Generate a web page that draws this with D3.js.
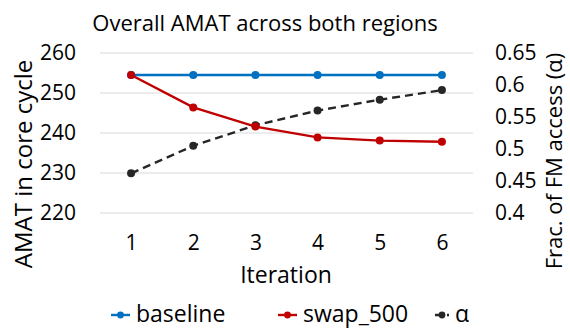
<!DOCTYPE html>
<html>
<head>
<meta charset="utf-8">
<script src="https://cdn.jsdelivr.net/npm/d3@7"></script>
<style>
  html, body { margin: 0; padding: 0; background: #fff; }
  text { font-family: "Open Sans", "Noto Sans", sans-serif; fill: #000; }
</style>
</head>
<body>
<svg id="chart" width="570" height="330"></svg>
<script>
const iterations = [1, 2, 3, 4, 5, 6];
const baseline = [254.5, 254.5, 254.5, 254.5, 254.5, 254.5];
const swap500 = [254.5, 246.4, 241.6, 238.9, 238.1, 237.8];
const alpha = [0.462, 0.505, 0.537, 0.560, 0.577, 0.592];
const leftTicks = [220, 230, 240, 250, 260];
const rightTicks = [0.4, 0.45, 0.5, 0.55, 0.6, 0.65];

const svg = d3.select("#chart");
const plot = { left: 100, right: 473, top: 53, bottom: 213 };
const tickFont = "21px";

const x = d3.scalePoint().domain(iterations).range([plot.left, plot.right]).padding(0.5);
const yL = d3.scaleLinear().domain([220, 260]).range([plot.bottom, plot.top]);
const yR = d3.scaleLinear().domain([0.4, 0.65]).range([plot.bottom, plot.top]);

// horizontal gridlines
svg.append("g")
  .selectAll("line").data(leftTicks).join("line")
  .attr("x1", plot.left).attr("x2", plot.right)
  .attr("y1", d => yL(d)).attr("y2", d => yL(d))
  .attr("stroke", "#d9d9d9").attr("stroke-width", 1);

// left axis
const gL = svg.append("g").attr("transform", `translate(${plot.left - 24},0)`)
  .call(d3.axisLeft(yL).tickValues(leftTicks).tickSize(0).tickPadding(0));
gL.select(".domain").remove();
gL.selectAll("text").style("font-size", tickFont).style("font-family", "'Open Sans', sans-serif").attr("fill", "#000");

// right axis
const gR = svg.append("g").attr("transform", `translate(${plot.right + 22},0)`)
  .call(d3.axisRight(yR).tickValues(rightTicks).tickFormat(d3.format("~g")).tickSize(0).tickPadding(0));
gR.select(".domain").remove();
gR.selectAll("text").style("font-size", tickFont).style("font-family", "'Open Sans', sans-serif").attr("fill", "#000");

// bottom axis
const gB = svg.append("g").attr("transform", `translate(0,${plot.bottom + 30})`)
  .call(d3.axisBottom(x).tickSize(0).tickPadding(0));
gB.select(".domain").remove();
gB.selectAll("text").style("font-size", tickFont).style("font-family", "'Open Sans', sans-serif").attr("fill", "#000").attr("dy", "0.35em");

// titles
svg.append("text").attr("x", 265).attr("y", 31).attr("text-anchor", "middle")
  .style("font-size", "22px").text("Overall AMAT across both regions");
svg.append("text").attr("x", 286).attr("y", 283).attr("text-anchor", "middle")
  .style("font-size", "23px").text("Iteration");
svg.append("text").attr("transform", "translate(32,164) rotate(-90)").attr("text-anchor", "middle")
  .style("font-size", "24px").text("AMAT in core cycle");
svg.append("text").attr("transform", "translate(562,161) rotate(-90)").attr("text-anchor", "middle")
  .style("font-size", "22px").text("Frac. of FM access (α)");

const series = [
  { name: "baseline", values: baseline, scale: yL, color: "#0070c0", dash: null },
  { name: "swap_500", values: swap500, scale: yL, color: "#c00000", dash: null },
  { name: "α", values: alpha, scale: yR, color: "#262626", dash: "8,5" }
];

const order = [series[2], series[0], series[1]];
order.forEach(s => {
  const line = d3.line().x((d, i) => x(iterations[i])).y(d => s.scale(d));
  svg.append("path").datum(s.values).attr("d", line)
    .attr("fill", "none").attr("stroke", s.color).attr("stroke-width", 2.4)
    .attr("stroke-dasharray", s.dash);
  svg.append("g").selectAll("circle").data(s.values).join("circle")
    .attr("cx", (d, i) => x(iterations[i])).attr("cy", d => s.scale(d))
    .attr("r", 4).attr("fill", s.color);
});

// legend
const legendX = [111, 278, 435];
const legendW = [19, 19, 14];
series.forEach((s, i) => {
  const g = svg.append("g").attr("transform", `translate(${legendX[i]},315)`);
  g.append("line").attr("x1", 0).attr("x2", legendW[i]).attr("y1", 0).attr("y2", 0)
    .attr("stroke", s.color).attr("stroke-width", 2.4)
    .attr("stroke-dasharray", s.dash ? "4,2" : null);
  g.append("circle").attr("cx", legendW[i] / 2).attr("cy", 0).attr("r", 3.4).attr("fill", s.color);
  g.append("text").attr("x", legendW[i] + 6).attr("y", 7)
    .style("font-size", "23px").text(s.name);
});
</script>
</body>
</html>
